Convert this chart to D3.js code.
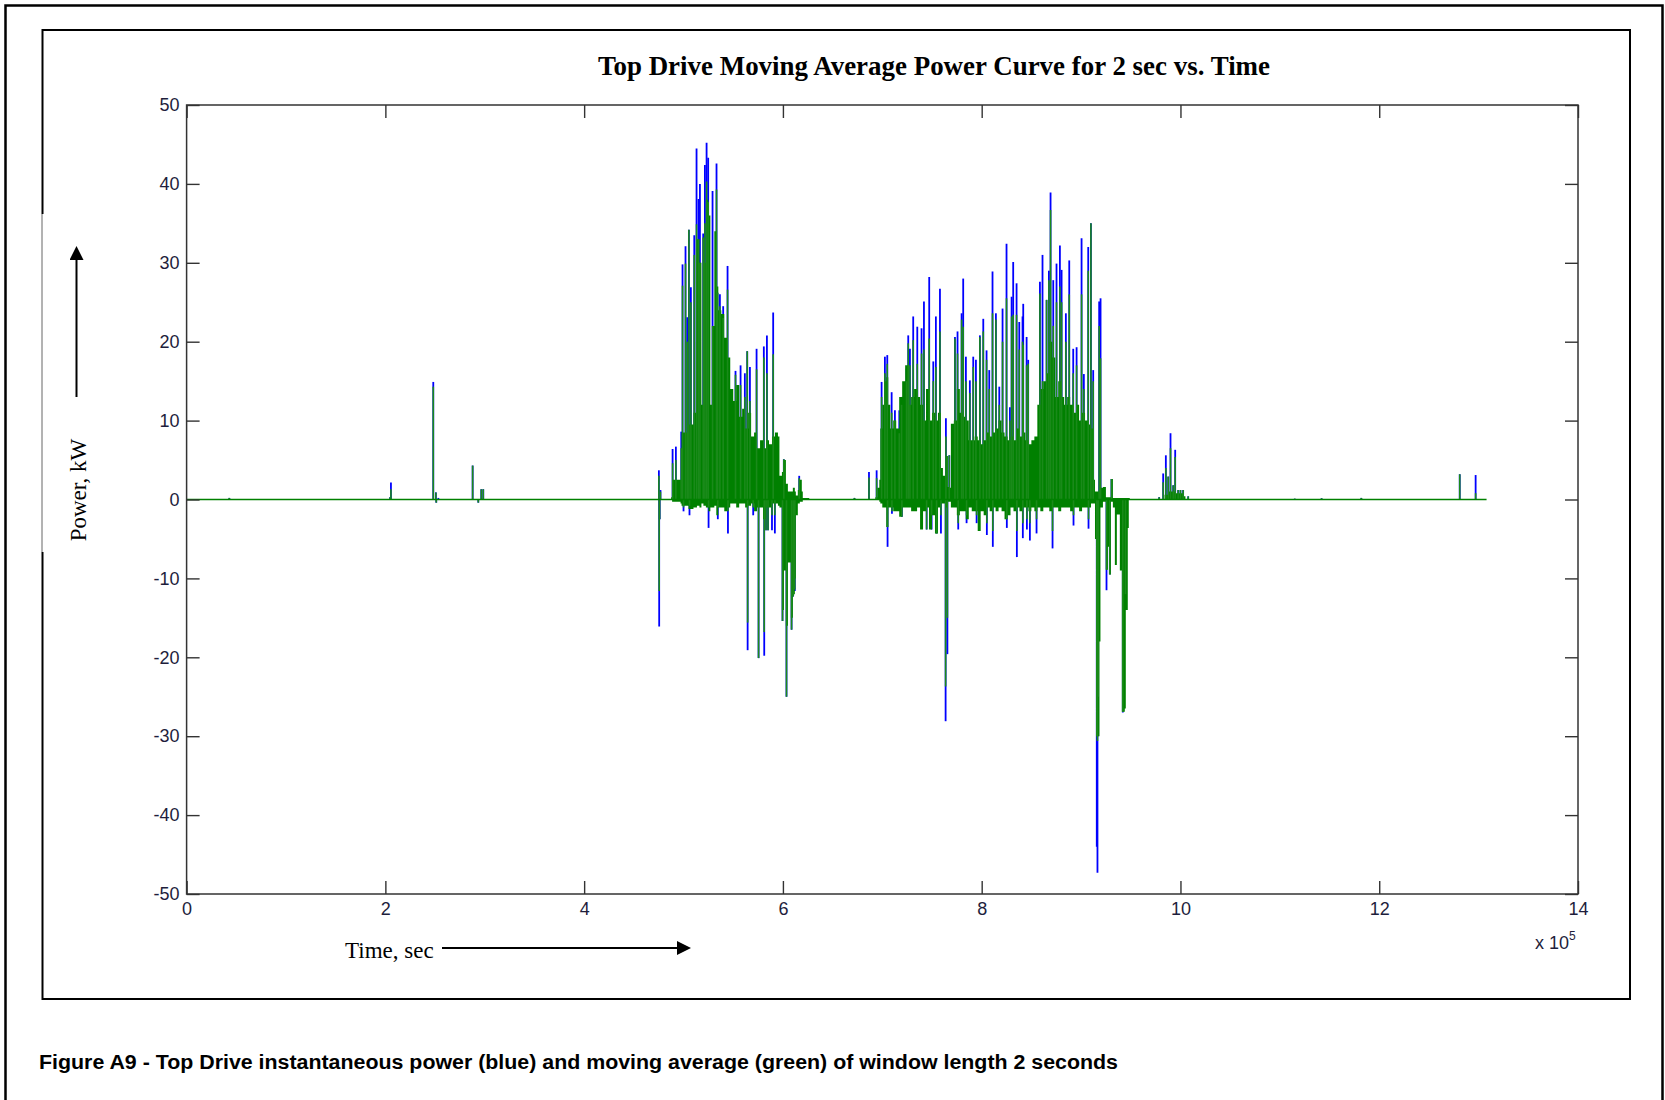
<!DOCTYPE html>
<html>
<head>
<meta charset="utf-8">
<script src="https://cdnjs.cloudflare.com/ajax/libs/d3/7.8.5/d3.min.js"></script>
<style>
  body { margin: 0; background: #fff; }
  .tick line { stroke: #333; stroke-width: 1.4; }
  .tick text { font-family: "Liberation Sans", Arial, sans-serif; font-size: 18px; fill: #1e1e3c; }
  .serif { font-family: "Liberation Serif", "Times New Roman", serif; fill: #000; }
</style>
</head>
<body>
<div class="chart"></div>
<script>
// time is in units of 10^5 sec, power in kW

// flat trace the whole record sits on
var traceTime = [0, 13.08];
var traceValue = [0, 0];

// dense parts of the moving average (drawn as a filled band, step style)
var massTime = [
  4.875, 4.885, 4.970, 4.980, 5.050, 5.100, 5.125, 5.135, 5.160, 5.180,
  5.200, 5.225, 5.250, 5.270, 5.290, 5.310, 5.330, 5.350, 5.380, 5.410,
  5.440, 5.470, 5.500, 5.530, 5.560, 5.590, 5.620, 5.650, 5.680, 5.710,
  5.740, 5.770, 5.800, 5.830, 5.860, 5.890, 5.920, 5.950, 5.965, 5.990,
  6.010, 6.030, 6.050, 6.080, 6.100, 6.120, 6.130, 6.150, 6.170, 6.190,
  6.200, 6.265,
  6.930, 6.950, 6.970, 6.980, 7.000, 7.020, 7.040, 7.060, 7.080, 7.110,
  7.140, 7.170, 7.200, 7.230, 7.260, 7.290, 7.320, 7.350, 7.380, 7.410,
  7.440, 7.470, 7.500, 7.530, 7.560, 7.590, 7.610, 7.640, 7.660, 7.680,
  7.690, 7.720, 7.750, 7.780, 7.810, 7.840, 7.870, 7.900, 7.930, 7.960,
  7.990, 8.020, 8.050, 8.080, 8.110, 8.140, 8.170, 8.200, 8.230, 8.260,
  8.290, 8.320, 8.350, 8.380, 8.410, 8.440, 8.470, 8.500, 8.530, 8.560,
  8.590, 8.620, 8.650, 8.680, 8.710, 8.740, 8.770, 8.800, 8.830, 8.860,
  8.890, 8.920, 8.950, 8.980, 9.010, 9.040, 9.070, 9.100, 9.130, 9.140,
  9.150, 9.170, 9.185, 9.195, 9.220, 9.250, 9.270, 9.290, 9.300, 9.320,
  9.340, 9.360, 9.390, 9.410, 9.440, 9.450, 9.470, 9.480, 9.490,
  9.840, 9.880, 9.950, 10.030, 10.050
];
var massHigh = [
  0.3, 2.5, 2.5, 8.5, 9.5, 11.0, 20.0, 33.0, 30.0, 12.0,
  30.0, 38.0, 36.0, 12.0, 22.0, 34.0, 27.0, 24.0, 23.5, 20.5,
  18.0, 14.0, 12.5, 14.5, 10.5, 11.5, 9.0, 11.0, 8.0, 8.5,
  6.5, 7.5, 6.5, 7.5, 7.0, 8.0, 8.5, 8.0, 3.0, 3.5,
  5.0, 2.0, 1.0, 1.0, 1.5, 1.0, 0.5, 1.2, 2.5, 1.0,
  0.2, 0,
  0.3, 1.5, 2.5, 9.0, 12.0, 15.0, 15.5, 12.0, 9.0, 10.0,
  9.0, 13.0, 15.0, 17.0, 12.0, 13.0, 14.0, 13.0, 12.0, 10.0,
  14.0, 10.0, 11.0, 10.0, 11.0, 4.0, 3.0, 5.5, 1.6, 1.5,
  9.6, 10.0, 14.0, 11.0, 10.5, 10.0, 7.5, 7.5, 8.0, 7.5,
  7.0, 7.5, 8.5, 8.0, 8.5, 9.0, 10.0, 8.5, 8.0, 7.5,
  8.0, 7.5, 9.0, 8.0, 8.5, 7.5, 7.0, 7.5, 8.0, 12.0,
  14.0, 15.0, 16.0, 20.0, 18.0, 13.0, 15.0, 13.0, 12.0, 13.0,
  12.0, 11.0, 12.0, 10.0, 11.0, 10.0, 9.5, 9.0, 2.5, 1.0,
  1.0, 1.0, 1.0, 1.5, 1.6, 0.3, 0.3, 0.3, 2.6, 0.2,
  0.2, 0.2, 0.2, 0.2, 0.2, 0.2, 0.2, 0.2, 0,
  0.6, 1.0, 0.8, 0.4, 0
];
var massLow = [
  0, -0.3, -0.5, -0.8, -1.2, -1.0, -1.0, -0.8, -1.0, -0.5,
  -0.8, -1.0, -1.5, -1.0, -1.0, -0.8, -2.0, -1.0, -1.0, -1.5,
  -1.0, -0.5, -0.5, -1.0, -0.5, -0.5, -1.0, -0.8, -0.5, -1.5,
  -1.0, -1.0, -2.5, -1.0, -1.0, -0.5, -0.5, -0.8, -1.0, -14.0,
  -9.0, -16.0, -8.0, -15.0, -12.0, -10.0, -2.0, -0.5, -0.3, -0.3,
  0, 0,
  0, 0, -0.3, -0.5, -1.0, -1.0, -3.5, -1.0, -1.0, -1.5,
  -1.5, -2.2, -1.0, -1.0, -1.0, -1.5, -1.5, -1.0, -3.8, -1.5,
  -1.0, -3.8, -2.0, -4.3, -1.0, -0.5, -0.5, -1.0, -0.3, -0.3,
  -1.0, -1.0, -2.0, -1.5, -1.5, -2.5, -1.0, -1.5, -1.5, -4.0,
  -1.5, -2.0, -1.0, -1.5, -1.0, -1.5, -1.0, -1.5, -2.5, -2.0,
  -1.0, -1.5, -1.0, -1.5, -1.0, -1.0, -1.5, -1.0, -1.5, -1.0,
  -1.5, -1.0, -1.0, -1.5, -1.0, -1.0, -1.5, -1.0, -1.0, -1.0,
  -1.5, -1.0, -1.0, -1.5, -1.0, -1.0, -1.0, -0.5, -0.5, -5.0,
  -30.0, -30.0, -18.0, -1.0, -0.3, -8.9, -6.0, -9.5, -0.3, -1.0,
  -8.3, -1.9, -9.0, -26.9, -26.5, -14.0, -3.6, 0, 0,
  0, 0, 0, 0, 0
];

// single excursions: green = moving average, blue = instantaneous power
var spikeTime = [
  0.43, 2.048, 2.056, 2.482, 2.508, 2.512, 2.533, 2.878, 2.935, 2.965, 2.985,
  4.752, 4.755, 4.760, 4.768,
  4.890, 4.923, 4.977, 4.990, 5.000, 5.020, 5.037, 5.054, 5.060, 5.074,
  5.108, 5.131, 5.151, 5.165, 5.198, 5.215, 5.232, 5.248, 5.252, 5.292,
  5.332, 5.342, 5.345, 5.366, 5.399, 5.443, 5.447, 5.523, 5.574, 5.617,
  5.641, 5.645, 5.668, 5.701, 5.735, 5.755, 5.808, 5.812, 5.830, 5.839,
  5.850, 5.890, 5.902, 5.919, 5.996, 6.009, 6.036, 6.087, 6.103, 6.120,
  6.164, 6.720,
  6.866, 6.943, 6.993, 7.026, 7.050, 7.053, 7.094, 7.097, 7.127, 7.171,
  7.194, 7.197, 7.244, 7.261, 7.278, 7.311, 7.352, 7.395, 7.419, 7.446,
  7.472, 7.496, 7.513, 7.539, 7.546, 7.580, 7.590, 7.637, 7.640, 7.655,
  7.674, 7.731, 7.757, 7.764, 7.798, 7.814, 7.841, 7.848, 7.881, 7.915,
  7.942, 7.949, 7.982, 8.016, 8.049, 8.052, 8.076, 8.109, 8.112, 8.143,
  8.177, 8.210, 8.250, 8.253, 8.284, 8.301, 8.317, 8.351, 8.354, 8.378,
  8.411, 8.414, 8.418, 8.452, 8.455, 8.468, 8.485, 8.552, 8.586, 8.612,
  8.653, 8.676, 8.693, 8.713, 8.720, 8.753, 8.787, 8.804, 8.847, 8.881,
  8.921, 8.924, 8.955, 9.005, 9.028, 9.072, 9.075, 9.099, 9.122, 9.158,
  9.165, 9.172, 9.182, 9.196, 9.256, 9.289, 9.306, 9.420, 9.447,
  9.786, 9.826, 9.853, 9.877, 9.900, 9.927, 9.947, 9.977, 10.000, 10.027, 10.078,
  11.15, 11.42, 11.82, 12.81, 12.97
];
var spikeGreen = [
  0.2, 0.3, 1.3, 14.3, 0.9, -0.4, 0, 4.3, -0.4, 1.3, 1.3,
  3.0, -11.6, -2.5, 1.0,
  4.6, 5.0, 6.5, 27.1, -1.0, 29.9, 20.0, 34.2, -0.8, 25.0,
  31.0, 34.9, 33.0, 30.0, 33.2, 35.0, 40.3, 37.7, -1.0, 22.0,
  39.3, 26.2, -1.0, 24.5, 23.0, 26.6, -1.5, 15.8, 14.5, 13.0,
  18.8, -15.6, 12.5, -1.0, 16.5, -20.1, 18.0, -16.8, -3.9, 16.0,
  -3.9, -2.0, 18.4, -2.0, -15.4, 5.1, -25.0, -16.5, -12.3, -11.4,
  2.7, 0.2,
  2.8, 2.7, 13.0, 16.0, 17.2, -3.5, 11.0, -1.5, 10.0, 8.4,
  12.0, -2.2, 15.0, 19.8, 17.0, 20.2, 17.2, 18.5, 19.0, -3.8,
  20.4, -2.0, 15.0, 16.8, -4.3, 21.3, -2.0, -23.7, 8.0, -15.0,
  5.6, 20.4, 18.5, -3.0, 22.8, 21.9, 15.0, -2.0, 13.5, 16.8,
  15.0, -2.0, 20.6, 21.3, 17.7, -3.0, 14.0, 23.6, -4.0, 22.8,
  12.0, 20.0, 25.5, -2.5, 10.0, 23.2, 23.4, 23.4, -4.0, 19.0,
  20.0, -3.0, 19.6, 17.0, -2.5, 17.2, -3.0, -2.5, 26.1, 15.0,
  25.3, 27.8, 36.7, -4.0, 22.0, 25.0, 27.0, 25.0, 20.0, 26.0,
  16.0, -2.0, 17.0, 26.0, 14.0, 29.0, -2.5, 35.0, 15.0, -30.0,
  -30.6, -25.0, 22.0, 17.9, -8.9, -9.5, 2.6, -26.9, -12.0,
  0.3, 2.2, 4.0, 2.9, 6.5, 1.8, 5.4, 1.2, 1.2, 1.2, 0.4,
  0.1, 0.15, 0.2, 3.2, 0.8
];
var spikeBlue = [
  0.2, 0.3, 2.15, 14.9, 0.9, -0.4, 0.2, 4.3, -0.4, 1.3, 1.3,
  3.7, -16.1, -2.5, 1.2,
  6.4, 6.7, 8.6, 29.8, -1.5, 32.1, 23.1, 34.2, -2.0, 26.9,
  33.5, 44.5, 38.1, 40.0, 33.7, 42.4, 45.2, 43.3, -3.6, 39.1,
  42.6, 26.2, -2.5, 26.0, 24.5, 29.6, -4.3, 16.3, 17.0, 16.0,
  18.8, -19.1, 16.8, -2.0, 19.1, -20.1, 19.4, -19.8, -3.9, 20.8,
  -3.9, -3.9, 23.7, -4.3, -15.4, 5.1, -25.0, -16.5, -12.3, -11.6,
  3.0, 0.2,
  3.5, 3.7, 14.9, 18.1, 18.3, -6.0, 13.6, -1.8, 11.3, 11.3,
  13.0, -2.2, 16.6, 20.8, 19.1, 23.2, 21.9, 21.7, 25.1, -3.8,
  28.2, -3.8, 17.5, 23.2, -4.3, 26.7, -4.3, -28.1, 10.3, -19.6,
  5.6, 20.6, 21.3, -3.8, 23.6, 28.0, 18.1, -3.0, 15.1, 18.1,
  17.7, -3.0, 20.8, 22.9, 18.9, -4.5, 16.4, 28.9, -6.0, 23.6,
  14.3, 24.2, 32.4, -3.6, 11.7, 25.7, 30.1, 27.4, -7.3, 22.5,
  23.2, -4.9, 24.8, 20.6, -3.8, 17.7, -5.2, -4.3, 27.6, 31.0,
  25.3, 29.0, 38.9, -6.2, 27.8, 29.9, 32.2, 29.1, 23.6, 30.3,
  19.1, -3.3, 19.3, 33.1, 15.9, 32.0, -3.7, 35.0, 16.4, -44.0,
  -47.3, -30.0, 25.1, 25.5, -11.5, -9.5, 2.6, -27.0, -14.0,
  0.3, 3.3, 5.6, 2.9, 8.4, 1.8, 6.3, 1.2, 1.2, 1.2, 0.4,
  0.1, 0.15, 0.2, 3.2, 3.1
];

var xTicks = [0, 2, 4, 6, 8, 10, 12, 14];
var yTicks = [-50, -40, -30, -20, -10, 0, 10, 20, 30, 40, 50];

var W = 1665, H = 1100;
var plot = { left: 186.6, right: 1578, top: 105, bottom: 894 };

var svg = d3.select(".chart")
  .append("svg")
  .attr("width", W)
  .attr("height", H);

svg.append("rect").attr("width", W).attr("height", H).attr("fill", "#fff");

// outer page frame (runs off the bottom)
svg.append("path")
  .attr("d", "M5.5,1100 V5.5 H1662.5 V1100")
  .attr("fill", "none")
  .attr("stroke", "#000")
  .attr("stroke-width", 2.5);

// figure frame, the left side is paler in the middle
var frame = svg.append("g").attr("stroke", "#000").attr("fill", "none");
frame.append("path").attr("d", "M42.5,214 V30 H1630 V999 H42.5 V552").attr("stroke-width", 2);
frame.append("line").attr("x1", 42).attr("x2", 42).attr("y1", 214).attr("y2", 552)
  .attr("stroke", "#666").attr("stroke-width", 1);

var x = d3.scaleLinear().domain([0, 14]).range([plot.left, plot.right]);
var y = d3.scaleLinear().domain([-50, 50]).range([plot.bottom, plot.top]);

var series = svg.append("g");

var spikes = spikeTime.map(function(t, i) {
  return { t: t, g: spikeGreen[i], b: spikeBlue[i] };
});
var mass = massTime.map(function(t, i) {
  return { t: t, hi: massHigh[i], lo: massLow[i] };
});

// instantaneous power first, it only shows where it pokes past the average
series.selectAll(".blue")
  .data(spikes)
  .enter().append("line")
  .attr("class", "blue")
  .attr("x1", function(d) { return x(d.t); })
  .attr("x2", function(d) { return x(d.t); })
  .attr("y1", y(0))
  .attr("y2", function(d) { return y(d.b); })
  .attr("stroke", "#0000ff")
  .attr("stroke-width", 1.8);

var area = d3.area()
  .x(function(d) { return x(d.t); })
  .y0(function(d) { return y(d.lo); })
  .y1(function(d) { return y(d.hi); })
  .curve(d3.curveStepAfter);

series.append("path")
  .datum(mass)
  .attr("d", area)
  .attr("fill", "#008000");

series.selectAll(".green")
  .data(spikes)
  .enter().append("line")
  .attr("class", "green")
  .attr("x1", function(d) { return x(d.t); })
  .attr("x2", function(d) { return x(d.t); })
  .attr("y1", y(0))
  .attr("y2", function(d) { return y(d.g); })
  .attr("stroke", "#1a8a1a")
  .attr("stroke-width", 1.6);

var trace = traceTime.map(function(t, i) { return { t: t, v: traceValue[i] }; });
series.append("path")
  .datum(trace)
  .attr("d", d3.line().x(function(d) { return x(d.t); }).y(function(d) { return y(d.v); }))
  .attr("stroke", "#008000")
  .attr("stroke-width", 1.6)
  .attr("fill", "none");

// axes box with inward ticks on all four sides
var fmt = function(d) { return String(d); };
var ax = svg.append("g");
ax.append("g").attr("transform", "translate(0," + plot.bottom + ")")
  .call(d3.axisBottom(x).tickValues(xTicks).tickFormat(fmt).tickSizeInner(-13).tickSizeOuter(0).tickPadding(8));
ax.append("g").attr("transform", "translate(0," + plot.top + ")")
  .call(d3.axisTop(x).tickValues(xTicks).tickFormat("").tickSizeInner(-13).tickSizeOuter(0));
ax.append("g").attr("transform", "translate(" + plot.left + ",0)")
  .call(d3.axisLeft(y).tickValues(yTicks).tickFormat(fmt).tickSizeInner(-13).tickSizeOuter(0).tickPadding(7));
ax.append("g").attr("transform", "translate(" + plot.right + ",0)")
  .call(d3.axisRight(y).tickValues(yTicks).tickFormat("").tickSizeInner(-13).tickSizeOuter(0));
ax.selectAll(".domain").remove();
ax.selectAll("text").attr("font-family", null).attr("font-size", null).attr("fill", null);

svg.append("rect")
  .attr("x", plot.left).attr("y", plot.top)
  .attr("width", plot.right - plot.left).attr("height", plot.bottom - plot.top)
  .attr("fill", "none").attr("stroke", "#333").attr("stroke-width", 1.5);

// x 10^5 exponent label
var expo = svg.append("text")
  .attr("x", 1535).attr("y", 949)
  .attr("font-family", "Liberation Sans, Arial, sans-serif")
  .attr("font-size", 18).attr("fill", "#1e1e3c")
  .text("x 10");
expo.append("tspan").attr("dy", -9).attr("font-size", 12).text("5");

// title
svg.append("text")
  .attr("class", "serif")
  .attr("x", 934).attr("y", 75)
  .attr("text-anchor", "middle")
  .attr("font-size", 27)
  .attr("font-weight", "bold")
  .attr("textLength", 672)
  .attr("lengthAdjust", "spacingAndGlyphs")
  .text("Top Drive Moving Average Power Curve for 2 sec vs. Time");

// axis names with their arrows
svg.append("text")
  .attr("class", "serif")
  .attr("x", 345).attr("y", 958)
  .attr("font-size", 23)
  .text("Time, sec");

svg.append("defs").append("marker")
  .attr("id", "head")
  .attr("viewBox", "0 0 10 10")
  .attr("refX", 0).attr("refY", 5)
  .attr("markerWidth", 7).attr("markerHeight", 7)
  .attr("markerUnits", "strokeWidth")
  .attr("orient", "auto")
  .append("path").attr("d", "M0,0 L10,5 L0,10 z").attr("fill", "#000");

svg.append("line")
  .attr("x1", 442).attr("y1", 948).attr("x2", 677).attr("y2", 948)
  .attr("stroke", "#000").attr("stroke-width", 2)
  .attr("marker-end", "url(#head)");

svg.append("text")
  .attr("class", "serif")
  .attr("transform", "translate(86,490) rotate(-90)")
  .attr("text-anchor", "middle")
  .attr("font-size", 23)
  .text("Power, kW");

svg.append("line")
  .attr("x1", 76.5).attr("y1", 397).attr("x2", 76.5).attr("y2", 260)
  .attr("stroke", "#000").attr("stroke-width", 2)
  .attr("marker-end", "url(#head)");

// caption under the figure
svg.append("text")
  .attr("x", 39).attr("y", 1069)
  .attr("font-family", "Liberation Sans, Arial, sans-serif")
  .attr("font-size", 20)
  .attr("font-weight", "bold")
  .attr("textLength", 1079)
  .attr("lengthAdjust", "spacingAndGlyphs")
  .text("Figure A9 - Top Drive instantaneous power (blue) and moving average (green) of window length 2 seconds");
</script>
</body>
</html>
